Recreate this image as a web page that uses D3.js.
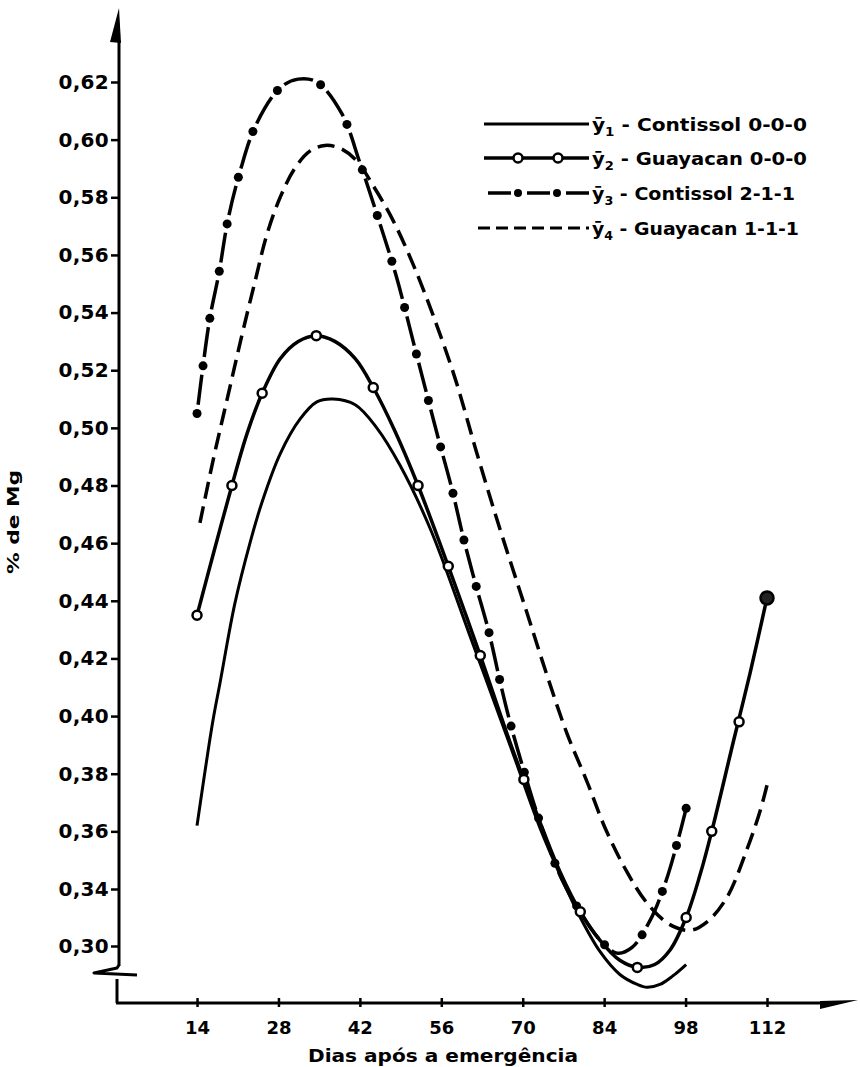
<!DOCTYPE html>
<html><head><meta charset="utf-8">
<script src="https://cdn.jsdelivr.net/npm/d3@7/dist/d3.min.js"></script>
<style>body{margin:0;background:#fff}svg{display:block}text{font-family:"DejaVu Sans",sans-serif;font-weight:bold;fill:#000}</style>
</head><body>
<svg id="c" width="860" height="1067"></svg>
<script>
// ---------- data ----------
const yTickValues = [0.30,0.34,0.36,0.38,0.40,0.42,0.44,0.46,0.48,0.50,0.52,0.54,0.56,0.58,0.60,0.62];
const yTickLabels = ["0,30","0,34","0,36","0,38","0,40","0,42","0,44","0,46","0,48","0,50","0,52","0,54","0,56","0,58","0,60","0,62"];
const xTickValues = [14,28,42,56,70,84,98,112];
const xTickLabels = ["14","28","42","56","70","84","98","112"];
const seriesNames = ["Contissol 0-0-0","Guayacan 0-0-0","Contissol 2-1-1","Guayacan 1-1-1"];
const xTitle = "Dias após a emergência";
const yTitle = "% de Mg";

// y1 - Contissol 0-0-0 (solid)
const y1Days   = [14.0,16.7,18.0,20.5,23.1,25.3,28.3,31.7,34.6,37.4,41.2,44.9,48.9,54.1,60.9,67.8,73.0,76.4,79.9,83.3,86.7,89.7,91.4,93.6,95.8,98.1];
const y1Values = [0.362,0.398,0.412,0.439,0.460,0.475,0.491,0.503,0.509,0.510,0.508,0.500,0.487,0.465,0.428,0.390,0.361,0.345,0.320,0.296,0.280,0.273,0.271,0.273,0.279,0.287];

// y2 - Guayacan 0-0-0 (solid with open circles)
const y2Days   = [14.0,16.9,20.0,22.6,25.2,28.3,31.4,34.5,37.7,41.2,44.3,48.0,52.0,57.2,62.7,67.8,73.0,76.4,79.9,83.3,86.7,89.7,92.7,95.3,98.1,100.5,102.5,106.2,109.1,112.0];
const y2Values = [0.435,0.457,0.480,0.498,0.512,0.524,0.530,0.532,0.530,0.524,0.514,0.499,0.480,0.452,0.421,0.391,0.363,0.346,0.324,0.304,0.290,0.285,0.287,0.297,0.320,0.345,0.360,0.391,0.415,0.441];
const y2MarkDays   = [14.0,20.0,25.2,34.5,44.3,52.0,57.2,62.7,70.2,79.9,89.7,98.1,102.5,107.2,112.0];
const y2MarkValues = [0.435,0.480,0.512,0.532,0.514,0.480,0.452,0.421,0.378,0.324,0.285,0.320,0.360,0.398,0.441];

// y3 - Contissol 2-1-1 (dash-dot)
const y3Days   = [14.0,15.0,16.2,17.8,19.3,21.4,24.1,28.3,31.4,34.6,38.9,42.0,45.1,48.2,51.8,55.4,57.8,59.9,62.0,64.2,66.1,67.8,70.2,73.0,76.8,79.9,82.9,86.2,88.8,91.9,94.5,96.7,98.1];
const y3Values = [0.505,0.521,0.538,0.554,0.572,0.589,0.605,0.618,0.621,0.620,0.609,0.592,0.573,0.553,0.525,0.497,0.479,0.461,0.445,0.429,0.412,0.398,0.381,0.363,0.343,0.324,0.306,0.295,0.299,0.318,0.342,0.357,0.368];

// y4 - Guayacan 1-1-1 (dashed)
const y4Days   = [14.5,16.9,19.3,21.7,24.0,26.0,28.3,30.8,33.4,36.0,38.6,41.3,44.3,47.7,51.1,54.6,58.4,62.0,65.6,70.7,74.2,77.6,81.1,84.2,87.9,91.4,95.3,98.8,101.7,105.1,108.6,110.8,112.0];
const y4Values = [0.467,0.490,0.511,0.532,0.551,0.567,0.580,0.590,0.596,0.598,0.597,0.593,0.584,0.572,0.557,0.539,0.517,0.492,0.468,0.436,0.414,0.394,0.377,0.361,0.346,0.330,0.315,0.311,0.317,0.334,0.354,0.367,0.376];

// ---------- drawing ----------
const svg = d3.select("#c");
const x = d3.scaleLinear().domain([0,112]).range([115.6,767]);
const y = d3.scaleLinear().domain([0.30,0.34,0.62]).range([946,889,82]);
const axisX = 119, baseY = 1003;

const g = svg.append("g");

// Y axis main line + top half arrow
g.append("path").attr("d",`M${axisX},40 L${axisX},966`).attr("stroke","#000").attr("stroke-width",3).attr("fill","none");
g.append("path").attr("d",`M${axisX},8 L${axisX-9},42 L${axisX+2},43 Z`).attr("fill","#000");
// break symbol and lower segment
g.append("path").attr("d",`M${axisX},965 L${axisX-2},968 L${axisX-25},973 L${axisX+18},975`).attr("stroke","#000").attr("stroke-width",3).attr("fill","none").attr("stroke-linejoin","round");
g.append("path").attr("d",`M${axisX-2},979 L${axisX-2},${baseY}`).attr("stroke","#000").attr("stroke-width",3).attr("fill","none");
// X axis line + arrow
g.append("path").attr("d",`M${axisX-3},${baseY} L822,${baseY}`).attr("stroke","#000").attr("stroke-width",3).attr("fill","none");
g.append("path").attr("d",`M820,${baseY-2} L820,${baseY+6} L858,${baseY-3} Z`).attr("fill","#000");

// Y ticks
const yAxis = d3.axisLeft(y).tickValues(yTickValues).tickSize(8).tickPadding(2)
  .tickFormat((d,i)=>yTickLabels[i]);
const ya = g.append("g").attr("transform",`translate(${axisX},0)`).call(yAxis);
ya.select(".domain").remove();
ya.selectAll(".tick line").attr("stroke","#000").attr("stroke-width",2.5);
ya.selectAll(".tick text").attr("font-size",20).attr("font-family","DejaVu Sans").attr("font-weight","bold")
  .attr("letter-spacing",0.3).attr("fill","#000");

// X ticks
const xAxis = d3.axisBottom(x).tickValues(xTickValues).tickSize(4).tickPadding(14)
  .tickFormat((d,i)=>xTickLabels[i]);
const xa = g.append("g").attr("transform",`translate(0,${baseY})`).call(xAxis);
xa.select(".domain").remove();
xa.selectAll(".tick line").attr("stroke","#000").attr("stroke-width",2.5).attr("y1",-5);
xa.selectAll(".tick text").attr("font-size",18).attr("font-family","DejaVu Sans").attr("font-weight","bold").attr("fill","#000");

// titles
g.append("text").attr("x",443).attr("y",1062).attr("text-anchor","middle").attr("font-size",17)
  .attr("textLength",270).attr("lengthAdjust","spacingAndGlyphs").text(xTitle);
g.append("text").attr("transform","translate(19,522) rotate(-90)").attr("text-anchor","middle").attr("font-size",15)
  .attr("textLength",104).attr("lengthAdjust","spacingAndGlyphs").text(yTitle);

// curves
const line = d3.line().x(d=>x(d[0])).y(d=>y(d[1])).curve(d3.curveCatmullRom.alpha(0.5));
const zip = (a,b)=>a.map((v,i)=>[v,b[i]]);

g.append("path").attr("d",line(zip(y1Days,y1Values))).attr("fill","none").attr("stroke","#000").attr("stroke-width",3);
g.append("path").attr("d",line(zip(y4Days,y4Values))).attr("fill","none").attr("stroke","#000").attr("stroke-width",3.5).attr("stroke-dasharray","17,8");
const y3p = g.append("path").attr("d",line(zip(y3Days,y3Values))).attr("fill","none").attr("stroke","#000").attr("stroke-width",3.5).attr("stroke-dasharray","0,9,30,9");
g.append("path").attr("d",line(zip(y2Days,y2Values))).attr("fill","none").attr("stroke","#000").attr("stroke-width",3.5);

// y3 dots spaced along the curve
const node = y3p.node(), L = node.getTotalLength(), period = 48;
const dots = [];
for (let s=0; s<=L; s+=period) dots.push(node.getPointAtLength(s));
dots.push(node.getPointAtLength(L));
g.selectAll(".d3dot").data(dots).enter().append("circle").attr("cx",d=>d.x).attr("cy",d=>d.y).attr("r",4.5).attr("fill","#000");

// y2 open circles
g.selectAll(".y2m").data(zip(y2MarkDays,y2MarkValues)).enter().append("circle")
  .attr("cx",d=>x(d[0])).attr("cy",d=>y(d[1])).attr("r",(d,i)=>i===y2MarkDays.length-1?6.5:4.5)
  .attr("fill",(d,i)=>i===y2MarkDays.length-1?"#222":"#fff").attr("stroke","#000").attr("stroke-width",2.5);

// legend
const legRows = [124,158,193,228];
const lx0 = 484, lx1 = 589;
const leg = g.append("g");
leg.append("line").attr("x1",lx0).attr("x2",lx1).attr("y1",legRows[0]).attr("y2",legRows[0]).attr("stroke","#000").attr("stroke-width",3);
leg.append("line").attr("x1",lx0).attr("x2",lx1).attr("y1",legRows[1]).attr("y2",legRows[1]).attr("stroke","#000").attr("stroke-width",3.5);
[518,558].forEach(cx=>leg.append("circle").attr("cx",cx).attr("cy",legRows[1]).attr("r",4.5).attr("fill","#fff").attr("stroke","#000").attr("stroke-width",2.5));
leg.append("line").attr("x1",lx0+4).attr("x2",lx1).attr("y1",legRows[2]).attr("y2",legRows[2]).attr("stroke","#000").attr("stroke-width",3.5).attr("stroke-dasharray","23,16");
[518,557].forEach(cx=>leg.append("circle").attr("cx",cx).attr("cy",legRows[2]).attr("r",4).attr("fill","#000"));
leg.append("line").attr("x1",lx0-6).attr("x2",lx1).attr("y1",legRows[3]).attr("y2",legRows[3]).attr("stroke","#000").attr("stroke-width",3).attr("stroke-dasharray","12,6");

const legWidths = [215,215,203,207];
seriesNames.forEach((nm,i)=>{
  const t = leg.append("text").attr("x",592).attr("y",legRows[i]+7).attr("font-size",18)
    .attr("textLength",legWidths[i]).attr("lengthAdjust","spacingAndGlyphs");
  t.append("tspan").text("ȳ");
  t.append("tspan").attr("font-size",12).attr("dy",5).text(String(i+1));
  t.append("tspan").attr("dy",-5).text(" - " + nm);
});
</script>
</body></html>
